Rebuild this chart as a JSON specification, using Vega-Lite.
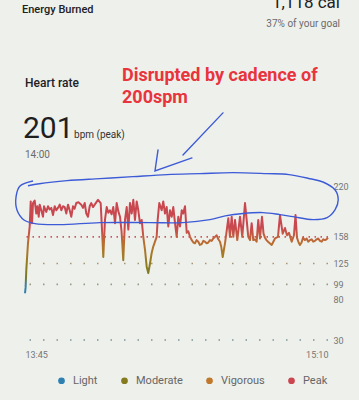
{
  "$schema": "https://vega.github.io/schema/vega-lite/v6.json",
  "width": 303,
  "height": 340,
  "autosize": "none",
  "padding": {"left": 25, "top": 0, "right": 31, "bottom": 60},
  "background": "#eef0ec",
  "config": {
    "font": "Roboto",
    "view": {"stroke": null},
    "axis": {"grid": false, "domain": false, "ticks": false, "labelFont": "Roboto", "labelColor": "#757575", "labelFontSize": 9}
  },
  "datasets": {
    "hr": [
      {"t":"13:45:00","v":88},{"t":"13:45:10","v":95},{"t":"13:45:22","v":117},{"t":"13:45:50","v":150},{"t":"13:46:19","v":171},{"t":"13:46:36","v":202},{"t":"13:46:58","v":175},{"t":"13:47:15","v":200},{"t":"13:47:43","v":203},{"t":"13:48:10","v":187},{"t":"13:48:27","v":196},{"t":"13:48:51","v":183},{"t":"13:49:07","v":198},{"t":"13:49:34","v":191},{"t":"13:50:03","v":183},{"t":"13:50:20","v":196},{"t":"13:50:58","v":189},{"t":"13:51:27","v":196},{"t":"13:51:55","v":192},{"t":"13:52:23","v":194},{"t":"13:52:51","v":185},{"t":"13:53:20","v":196},{"t":"13:53:48","v":191},{"t":"13:54:15","v":194},{"t":"13:54:44","v":198},{"t":"13:55:11","v":191},{"t":"13:55:40","v":196},{"t":"13:56:08","v":195},{"t":"13:56:35","v":187},{"t":"13:57:04","v":198},{"t":"13:57:32","v":191},{"t":"13:57:59","v":183},{"t":"13:58:28","v":196},{"t":"13:58:55","v":193},{"t":"13:59:23","v":200},{"t":"14:00:00","v":201},{"t":"14:00:47","v":198},{"t":"14:01:16","v":194},{"t":"14:01:45","v":200},{"t":"14:02:12","v":187},{"t":"14:02:40","v":183},{"t":"14:03:09","v":196},{"t":"14:03:36","v":200},{"t":"14:04:05","v":195},{"t":"14:04:33","v":198},{"t":"14:05:29","v":204},{"t":"14:06:14","v":200},{"t":"14:06:36","v":167},{"t":"14:06:58","v":133},{"t":"14:07:26","v":179},{"t":"14:07:55","v":195},{"t":"14:08:22","v":188},{"t":"14:08:50","v":191},{"t":"14:09:18","v":186},{"t":"14:09:46","v":195},{"t":"14:10:15","v":175},{"t":"14:10:43","v":200},{"t":"14:11:10","v":190},{"t":"14:11:39","v":183},{"t":"14:12:05","v":165},{"t":"14:12:34","v":129},{"t":"14:13:03","v":179},{"t":"14:13:32","v":195},{"t":"14:13:59","v":167},{"t":"14:14:27","v":200},{"t":"14:14:56","v":187},{"t":"14:15:23","v":204},{"t":"14:15:51","v":179},{"t":"14:16:20","v":202},{"t":"14:16:47","v":191},{"t":"14:17:15","v":175},{"t":"14:17:44","v":179},{"t":"14:18:11","v":158},{"t":"14:18:40","v":142},{"t":"14:19:08","v":121},{"t":"14:19:35","v":113},{"t":"14:20:04","v":125},{"t":"14:20:32","v":138},{"t":"14:20:59","v":146},{"t":"14:21:28","v":152},{"t":"14:21:56","v":158},{"t":"14:22:13","v":179},{"t":"14:22:40","v":200},{"t":"14:23:20","v":191},{"t":"14:23:47","v":202},{"t":"14:24:16","v":187},{"t":"14:24:45","v":195},{"t":"14:25:12","v":171},{"t":"14:25:40","v":191},{"t":"14:26:09","v":183},{"t":"14:26:36","v":195},{"t":"14:27:05","v":175},{"t":"14:27:33","v":158},{"t":"14:28:00","v":183},{"t":"14:28:29","v":171},{"t":"14:28:58","v":191},{"t":"14:29:24","v":187},{"t":"14:29:53","v":196},{"t":"14:30:22","v":163},{"t":"14:30:49","v":165},{"t":"14:31:18","v":158},{"t":"14:31:46","v":154},{"t":"14:32:14","v":151},{"t":"14:32:41","v":150},{"t":"14:33:09","v":154},{"t":"14:33:37","v":152},{"t":"14:34:05","v":148},{"t":"14:34:34","v":149},{"t":"14:35:01","v":153},{"t":"14:35:29","v":152},{"t":"14:35:57","v":150},{"t":"14:36:25","v":151},{"t":"14:36:53","v":154},{"t":"14:37:21","v":153},{"t":"14:37:49","v":156},{"t":"14:38:18","v":158},{"t":"14:38:46","v":160},{"t":"14:39:14","v":155},{"t":"14:39:42","v":152},{"t":"14:40:05","v":145},{"t":"14:40:28","v":133},{"t":"14:41:06","v":150},{"t":"14:41:34","v":165},{"t":"14:42:02","v":181},{"t":"14:42:30","v":158},{"t":"14:42:59","v":183},{"t":"14:43:26","v":158},{"t":"14:43:55","v":179},{"t":"14:44:33","v":154},{"t":"14:45:19","v":183},{"t":"14:45:57","v":158},{"t":"14:46:43","v":200},{"t":"14:47:11","v":179},{"t":"14:47:38","v":158},{"t":"14:48:07","v":154},{"t":"14:48:35","v":175},{"t":"14:49:02","v":154},{"t":"14:49:30","v":155},{"t":"14:49:59","v":152},{"t":"14:50:26","v":179},{"t":"14:50:55","v":156},{"t":"14:51:29","v":183},{"t":"14:51:55","v":162},{"t":"14:52:19","v":157},{"t":"14:52:45","v":154},{"t":"14:53:10","v":152},{"t":"14:53:40","v":150},{"t":"14:54:12","v":148},{"t":"14:54:40","v":152},{"t":"14:55:08","v":156},{"t":"14:55:58","v":158},{"t":"14:56:32","v":185},{"t":"14:57:17","v":162},{"t":"14:57:56","v":169},{"t":"14:58:29","v":160},{"t":"14:59:03","v":163},{"t":"14:59:49","v":152},{"t":"15:00:27","v":160},{"t":"15:00:53","v":185},{"t":"15:01:18","v":157},{"t":"15:01:45","v":151},{"t":"15:02:08","v":148},{"t":"15:02:35","v":151},{"t":"15:02:59","v":157},{"t":"15:03:32","v":154},{"t":"15:04:00","v":156},{"t":"15:04:28","v":152},{"t":"15:04:55","v":154},{"t":"15:05:25","v":155},{"t":"15:05:52","v":152},{"t":"15:06:21","v":153},{"t":"15:06:48","v":155},{"t":"15:07:16","v":156},{"t":"15:07:44","v":153},{"t":"15:08:14","v":152},{"t":"15:08:40","v":155},{"t":"15:09:09","v":154},{"t":"15:09:35","v":155},{"t":"15:10:00","v":157}
    ],
    "zones": [
      {"zone":"Light","v":30},{"zone":"Moderate","v":99},{"zone":"Vigorous","v":125},{"zone":"Peak","v":158}
    ],
    "ellipse": [
      {"i":1,"t":"13:47:15","v":227.4},{"i":2,"t":"13:43:36","v":221.2},{"i":3,"t":"13:42:29","v":207.6},{"i":4,"t":"13:42:45","v":191.4},{"i":5,"t":"13:44:43","v":179.0},{"i":6,"t":"13:47:48","v":174.4},{"i":7,"t":"13:54:49","v":173.2},{"i":8,"t":"14:06:02","v":175.7},{"i":9,"t":"14:20:04","v":175.7},{"i":10,"t":"14:29:19","v":175.7},{"i":11,"t":"14:36:53","v":179.4},{"i":12,"t":"14:41:10","v":184},{"i":13,"t":"14:46:10","v":187},{"i":14,"t":"14:51:46","v":188.1},{"i":15,"t":"14:56:30","v":185.6},{"i":16,"t":"15:00:11","v":183.1},{"i":17,"t":"15:05:50","v":179.4},{"i":18,"t":"15:09:45","v":181.8},{"i":19,"t":"15:12:00","v":191.7},{"i":20,"t":"15:12:52","v":204},{"i":21,"t":"15:12:00","v":216.2},{"i":22,"t":"15:08:35","v":226.1},{"i":23,"t":"15:04:55","v":230.2},{"i":24,"t":"14:59:04","v":235.3},{"i":25,"t":"14:52:53","v":236.5},{"i":26,"t":"14:43:21","v":237.7},{"i":27,"t":"14:34:05","v":236.5},{"i":28,"t":"14:24:50","v":235.3},{"i":29,"t":"14:15:17","v":232.8},{"i":30,"t":"14:06:02","v":230.3},{"i":31,"t":"13:56:47","v":227.8},{"i":32,"t":"13:49:00","v":224},{"i":33,"t":"13:45:50","v":221.5}
    ],
    "arrow": [
      {"s":"shaft","i":1,"t":"14:40:32","v":311.9},{"s":"shaft","i":2,"t":"14:29:19","v":259.7},
      {"s":"head","i":1,"t":"14:22:19","v":265.9},{"s":"head","i":2,"t":"14:21:28","v":239.9},{"s":"head","i":3,"t":"14:31:50","v":256.0}
    ]
  },
  "layer": [
    {
      "data": {"name": "zones"},
      "transform": [{"filter": "datum.zone !== 'Peak'"}],
      "mark": {"type": "rule", "strokeDash": [1.5, 12], "strokeWidth": 1.6},
      "encoding": {
        "y": {"field": "v", "type": "quantitative", "scale": {"domain": [30, 452], "nice": false, "zero": false},
          "axis": {"title": null, "orient": "right", "values": [30, 80, 99, 125, 158, 220], "labelPadding": 5}},
        "stroke": {"field": "zone", "type": "nominal", "scale": {"domain": ["Light","Moderate","Vigorous","Peak"], "range": ["#7d9597","#9a9a84","#a8926f","#d0555c"]}, "legend": null},
        "fill": {"field": "zone", "type": "nominal", "scale": {"domain": ["Light","Moderate","Vigorous","Peak"], "range": ["#2e80b1","#847a1f","#c0782b","#cc4650"]},
          "legend": {"title": null, "orient": "none", "legendX": 31, "legendY": 375, "direction": "horizontal", "symbolType": "circle", "symbolSize": 45, "symbolStrokeWidth": 0, "symbolStrokeColor": "transparent", "columnPadding": 21, "labelOffset": 6, "padding": 0, "labelFont": "Roboto", "labelFontSize": 11, "labelColor": "#666666"}}
      }
    },
    {
      "data": {"name": "zones"},
      "transform": [{"filter": "datum.zone === 'Peak'"}],
      "mark": {"type": "rule", "strokeDash": [1.5, 4.5], "strokeWidth": 1.6},
      "encoding": {
        "y": {"field": "v", "type": "quantitative", "scale": {"domain": [30, 452], "nice": false, "zero": false},
          "axis": {"title": null, "orient": "right", "values": [30, 80, 99, 125, 158, 220], "labelPadding": 5}},
        "stroke": {"field": "zone", "type": "nominal", "scale": {"domain": ["Light","Moderate","Vigorous","Peak"], "range": ["#7d9597","#9a9a84","#a8926f","#d0555c"]}, "legend": null},
        "fill": {"field": "zone", "type": "nominal", "scale": {"domain": ["Light","Moderate","Vigorous","Peak"], "range": ["#2e80b1","#847a1f","#c0782b","#cc4650"]},
          "legend": {"title": null, "orient": "none", "legendX": 31, "legendY": 375, "direction": "horizontal", "symbolType": "circle", "symbolSize": 45, "symbolStrokeWidth": 0, "symbolStrokeColor": "transparent", "columnPadding": 21, "labelOffset": 6, "padding": 0, "labelFont": "Roboto", "labelFontSize": 11, "labelColor": "#666666"}}
      }
    },
    {
      "mark": {"type": "rule", "strokeDash": [3, 3], "strokeWidth": 1.4, "color": "#a9a9a9"},
      "encoding": {
        "x": {"datum": {"year": 1900, "month": 1, "date": 1, "hours": 14, "minutes": 0}, "type": "temporal", "axis": {"title": null}},
        "y": {"datum": 222, "type": "quantitative", "axis": {"title": null}},
        "y2": {"datum": 30}
      }
    },
    {
      "data": {"name": "hr", "format": {"parse": {"t": "date:'%H:%M:%S'"}}},
      "mark": {"type": "line", "strokeWidth": 2, "strokeJoin": "round",
        "stroke": {"gradient": "linear", "x1": 0, "y1": 0, "x2": 0, "y2": 1, "stops": [
          {"offset": 0, "color": "#c9474f"},
          {"offset": 0.29, "color": "#c9474f"},
          {"offset": 0.38, "color": "#c45a42"},
          {"offset": 0.47, "color": "#b8702e"},
          {"offset": 0.6, "color": "#a47a24"},
          {"offset": 0.71, "color": "#8b7c1e"},
          {"offset": 0.83, "color": "#7a7a2c"},
          {"offset": 0.91, "color": "#3f7f98"},
          {"offset": 1, "color": "#2f80b0"}
        ]}},
      "encoding": {
        "x": {"field": "t", "type": "temporal",
          "scale": {"domain": [{"year": 1900, "month": 1, "date": 1, "hours": 13, "minutes": 45}, {"year": 1900, "month": 1, "date": 1, "hours": 15, "minutes": 10}], "nice": false},
          "axis": {"title": null, "format": "%H:%M", "labelFlush": true, "labelPadding": 10,
            "values": [{"year": 1900, "month": 1, "date": 1, "hours": 13, "minutes": 45}, {"year": 1900, "month": 1, "date": 1, "hours": 15, "minutes": 10}]}},
        "y": {"field": "v", "type": "quantitative", "scale": {"domain": [30, 452], "nice": false, "zero": false},
          "axis": {"title": null, "orient": "right", "values": [30, 80, 99, 125, 158, 220], "labelPadding": 5}}
      }
    },
    {
      "data": {"name": "ellipse", "format": {"parse": {"t": "date:'%H:%M:%S'"}}},
      "mark": {"type": "line", "interpolate": "catmull-rom", "color": "#3d5bd6", "strokeWidth": 1.4},
      "encoding": {
        "x": {"field": "t", "type": "temporal", "axis": {"title": null}},
        "y": {"field": "v", "type": "quantitative", "axis": {"title": null}},
        "order": {"field": "i", "type": "quantitative"}
      }
    },
    {
      "data": {"name": "arrow", "format": {"parse": {"t": "date:'%H:%M:%S'"}}},
      "mark": {"type": "line", "color": "#3d5bd6", "strokeWidth": 1.4, "strokeCap": "round"},
      "encoding": {
        "x": {"field": "t", "type": "temporal", "axis": {"title": null}},
        "y": {"field": "v", "type": "quantitative", "axis": {"title": null}},
        "detail": {"field": "s"},
        "order": {"field": "i", "type": "quantitative"}
      }
    },
    {
      "mark": {"type": "point", "shape": "circle", "filled": true, "size": 290, "color": "#55b8a6", "opacity": 0.55},
      "encoding": {
        "x": {"datum": {"year": 1900, "month": 1, "date": 1, "hours": 14, "minutes": 0}, "type": "temporal", "axis": {"title": null}},
        "y": {"datum": 201, "type": "quantitative", "axis": {"title": null}}
      }
    },
    {
      "mark": {"type": "point", "shape": "circle", "size": 50, "fill": "#ffffff", "fillOpacity": 1, "stroke": "#183230", "strokeWidth": 2.6, "opacity": 1},
      "encoding": {
        "x": {"datum": {"year": 1900, "month": 1, "date": 1, "hours": 14, "minutes": 0}, "type": "temporal", "axis": {"title": null}},
        "y": {"datum": 201, "type": "quantitative", "axis": {"title": null}}
      }
    },
    {
      "data": {"values": [{"t": "13:44:10", "v": 436, "label": "Energy Burned"}], "format": {"parse": {"t": "date:'%H:%M:%S'"}}},
      "mark": {"type": "text", "align": "left", "baseline": "alphabetic", "fontSize": 11, "fontWeight": 500, "color": "#202124"},
      "encoding": {"x": {"field": "t", "type": "temporal", "axis": {"title": null}}, "y": {"field": "v", "type": "quantitative", "axis": {"title": null}}, "text": {"field": "label"}}
    },
    {
      "data": {"values": [{"t": "15:13:22", "v": 442, "label": "1,118 cal"}], "format": {"parse": {"t": "date:'%H:%M:%S'"}}},
      "mark": {"type": "text", "align": "right", "baseline": "alphabetic", "fontSize": 17, "color": "#202124"},
      "encoding": {"x": {"field": "t", "type": "temporal", "axis": {"title": null}}, "y": {"field": "v", "type": "quantitative", "axis": {"title": null}}, "text": {"field": "label"}}
    },
    {
      "data": {"values": [{"t": "15:13:22", "v": 418, "label": "37% of your goal"}, {"t": "13:45:00", "v": 255.6, "label": "14:00"}], "format": {"parse": {"t": "date:'%H:%M:%S'"}}},
      "mark": {"type": "text", "align": {"expr": "datum.label === '14:00' ? 'left' : 'right'"}, "baseline": "alphabetic", "fontSize": 10, "color": "#6b6b6b"},
      "encoding": {"x": {"field": "t", "type": "temporal", "axis": {"title": null}}, "y": {"field": "v", "type": "quantitative", "axis": {"title": null}}, "text": {"field": "label"}}
    },
    {
      "data": {"values": [{"t": "13:45:00", "v": 344, "label": "Heart rate"}], "format": {"parse": {"t": "date:'%H:%M:%S'"}}},
      "mark": {"type": "text", "align": "left", "baseline": "alphabetic", "fontSize": 12, "fontWeight": 500, "color": "#202124"},
      "encoding": {"x": {"field": "t", "type": "temporal", "axis": {"title": null}}, "y": {"field": "v", "type": "quantitative", "axis": {"title": null}}, "text": {"field": "label"}}
    },
    {
      "data": {"values": [{"t": "13:44:26", "v": 280.5, "label": "201"}], "format": {"parse": {"t": "date:'%H:%M:%S'"}}},
      "mark": {"type": "text", "align": "left", "baseline": "alphabetic", "fontSize": 30, "fontWeight": 400, "color": "#1f1f1f"},
      "encoding": {"x": {"field": "t", "type": "temporal", "axis": {"title": null}}, "y": {"field": "v", "type": "quantitative", "axis": {"title": null}}, "text": {"field": "label"}}
    },
    {
      "data": {"values": [{"t": "13:58:45", "v": 280.5, "label": "bpm (peak)"}], "format": {"parse": {"t": "date:'%H:%M:%S'"}}},
      "mark": {"type": "text", "align": "left", "baseline": "alphabetic", "fontSize": 10, "color": "#333333"},
      "encoding": {"x": {"field": "t", "type": "temporal", "axis": {"title": null}}, "y": {"field": "v", "type": "quantitative", "axis": {"title": null}}, "text": {"field": "label"}}
    },
    {
      "data": {"values": [{"t": "14:12:13", "v": 352, "label": "Disrupted by cadence of"}, {"t": "14:12:13", "v": 324, "label": "200spm"}], "format": {"parse": {"t": "date:'%H:%M:%S'"}}},
      "mark": {"type": "text", "align": "left", "baseline": "alphabetic", "fontSize": 18, "fontWeight": "bold", "color": "#e8343d"},
      "encoding": {"x": {"field": "t", "type": "temporal", "axis": {"title": null}}, "y": {"field": "v", "type": "quantitative", "axis": {"title": null}}, "text": {"field": "label"}}
    }
  ]
}
